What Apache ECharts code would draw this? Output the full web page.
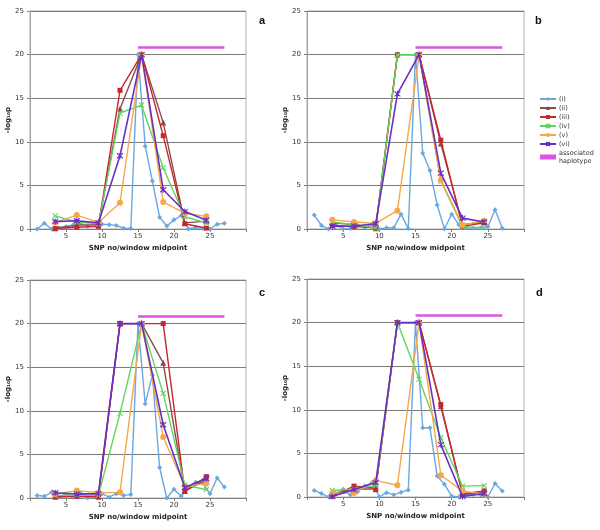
<!DOCTYPE html>
<html>
<head>
<meta charset="utf-8">
<script src="https://cdn.jsdelivr.net/npm/echarts@6/dist/echarts.min.js"></script>
<style>html,body{margin:0;padding:0;background:#fff}#c{width:600px;height:530px}</style>
</head>
<body>
<div id="c"></div>
<script>
// x positions
var snpX = [1,2,3,4,5,6,7,8,9,10,11,12,13,14,15,16,17,18,19,20,21,22,23,24,25,26,27];
var winX = [3.5,6.5,9.5,12.5,15.5,18.5,21.5,24.5];
var hapX = [15,27];
var hapY = [20.8,20.8];
var xTicks = ['5','10','15','20','25'];
var seriesNames = ['(i)','(ii)','(iii)','(iv)','(v)','(vi)'];
var panelLabels = ['a','b','c','d'];

// panel a
var a_i   = [0,0.65,0,0.15,0.25,0.45,0.6,0.3,0.55,0.55,0.5,0.4,0.1,0.05,20,9.5,5.5,1.35,0.35,1.05,1.55,0,0.2,0.05,0,0.55,0.65];
var a_ii  = [0.1,0.45,0.5,13.8,20,12.2,0.7,0.9];
var a_iii = [0.05,0.2,0.3,15.9,20,10.7,0.6,0.1];
var a_iv  = [1.5,0.8,0.6,13.3,14.2,7.0,1.4,0.7];
var a_v   = [0.75,1.6,0.75,3.0,20,3.1,1.8,1.45];
var a_vi  = [0.85,0.95,0.7,8.4,20,4.5,2.0,1.0];
// panel b
var b_i   = [1.6,0.4,0,0.5,0,0.05,0.4,0.2,0.55,0,0.15,0.15,1.7,0.05,20,8.7,6.7,2.75,0,1.7,0.5,0.15,0.1,0.15,0.25,2.2,0.1];
var b_ii  = [0.7,0.5,0.1,20,20,9.8,0.5,0.8];
var b_iii = [0.4,0.3,0.15,20,20,10.2,0.3,0.7];
var b_iv  = [0.8,0.5,0.1,20,20,5.5,0.25,0.15];
var b_v   = [1.05,0.8,0.65,2.1,20,5.6,0.45,0.95];
var b_vi  = [0.3,0.35,0.6,15.5,20,6.4,1.25,0.8];
// panel c
var c_i   = [0.3,0.2,0.65,0.1,0.5,0.1,0.6,0,0.5,0.5,0.1,0.5,0.3,0.4,20,10.8,14.1,3.5,0,1.0,0.2,1.2,1.8,1.7,0.5,2.3,1.25];
var c_ii  = [0.2,0.25,0.2,20,20,15.5,0.8,2.1];
var c_iii = [0.1,0.2,0.1,20,20,20,0.75,2.45];
var c_iv  = [0.3,0.35,0.3,9.7,20,12.0,1.5,0.95];
var c_v   = [0.45,0.85,0.6,0.65,20,7.0,1.35,1.65];
var c_vi  = [0.6,0.45,0.5,20,20,8.4,1.2,2.25];
// panel d
var d_i   = [0.75,0.4,0,0.4,0.9,0.25,0.6,1.25,1.65,0,0.5,0.25,0.55,0.8,20,7.95,7.95,2.4,1.45,0.1,0,0.3,0.3,0.25,0,1.55,0.7];
var d_ii  = [0.2,0.95,0.9,20,20,10.4,0.3,0.5];
var d_iii = [0.1,1.25,1.0,20,20,10.6,0.35,0.7];
var d_iv  = [0.75,0.9,1.3,20,13.5,6.8,1.25,1.3];
var d_v   = [0.45,0.45,1.9,1.35,20,2.5,0.7,0.3];
var d_vi  = [0.05,0.85,1.65,20,20,6.0,0.05,0.4];

var panels = [
  [a_i,a_ii,a_iii,a_iv,a_v,a_vi],
  [b_i,b_ii,b_iii,b_iv,b_v,b_vi],
  [c_i,c_ii,c_iii,c_iv,c_v,c_vi],
  [d_i,d_ii,d_iii,d_iv,d_v,d_vi]
];

var colors = ['#6aa8e0','#8e4a4a','#c8262c','#5fd45f','#f5a84a','#6a2ec4'];
var hapColor = '#dd55dd';
var symbols = ['diamond','triangle','rect','path://M0,0L10,10M10,0L0,10','circle','path://M0,0L10,10M10,0L0,10M5,-1L5,11'];
var symSizes = [5,6,5,5,6,6];

var grids = [
  {left:30, top:11, width:216, height:218},
  {left:307, top:11, width:217, height:218},
  {left:30, top:280, width:216, height:218},
  {left:307, top:279, width:217, height:218}
];

var font = 'DejaVu Sans';
var xAxes = [], yAxes = [], series = [], titles = [];
grids.forEach(function(g, gi){
  g.show = true; g.borderColor = '#b0b0b0'; g.borderWidth = 1; g.containLabel = false;
  xAxes.push({
    gridIndex: gi, type:'value', min:0, max:30, interval:5,
    name:'SNP no/window midpoint', nameLocation:'middle', nameGap:16,
    nameTextStyle:{fontFamily:font, fontWeight:'bold', fontSize:7, color:'#222'},
    axisLine:{show:true, onZero:false, lineStyle:{color:'#808080', width:1}},
    axisTick:{show:true, length:3, lineStyle:{color:'#808080'}},
    axisLabel:{fontFamily:font, fontSize:7, color:'#333', margin:4,
      formatter:function(v){ var s=String(v); return xTicks.indexOf(s)>=0 ? s : ''; }},
    splitLine:{show:false}
  });
  yAxes.push({
    gridIndex: gi, type:'value', min:0, max:25, interval:5,
    name:'-log\u2081\u2080p', nameLocation:'middle', nameGap:16, nameRotate:90,
    nameTextStyle:{fontFamily:font, fontWeight:'bold', fontSize:7, color:'#222'},
    axisLine:{show:true, lineStyle:{color:'#a0a0a0', width:1}},
    axisTick:{show:true, length:3, lineStyle:{color:'#808080'}},
    axisLabel:{fontFamily:font, fontSize:7, color:'#333', margin:6},
    splitLine:{show:true, lineStyle:{color:'#7a7a7a', width:1}}
  });
  var pd = panels[gi];
  pd.forEach(function(vals, si){
    var xs = si===0 ? snpX : winX;
    var data = vals.map(function(v,k){ return [xs[k], v]; });
    var isPath = symbols[si].indexOf('path')===0;
    series.push({
      name: seriesNames[si], type:'line', xAxisIndex:gi, yAxisIndex:gi,
      data: data, symbol: symbols[si], symbolSize: symSizes[si], showSymbol:true,
      lineStyle:{color:colors[si], width: si===5 ? 1.6 : 1.4},
      itemStyle: isPath ? {color:colors[si], borderColor:colors[si], borderWidth:1.1}
                        : {color:colors[si], borderWidth:0},
      emphasis:{disabled:true}, animation:false, z: 2+si
    });
  });
  series.push({
    name:'associated\nhaplotype', type:'line', xAxisIndex:gi, yAxisIndex:gi,
    data: hapX.map(function(x,k){ return [x, hapY[k]]; }),
    symbol:'none', lineStyle:{color:hapColor, width:2.5}, itemStyle:{color:hapColor},
    emphasis:{disabled:true}, animation:false, z:9
  });
});

titles = [
  {text:panelLabels[0], left:254, top:10},
  {text:panelLabels[1], left:530, top:10},
  {text:panelLabels[2], left:254, top:282},
  {text:panelLabels[3], left:531, top:282}
].map(function(t){ t.textStyle={fontFamily:'Liberation Sans', fontWeight:'bold', fontSize:11, color:'#111'}; return t; });

var legendData = seriesNames.map(function(n,i){ return {name:n}; });
legendData.push({name:'associated\nhaplotype', icon:'rect', itemStyle:{color:hapColor}});

var chart = echarts.init(document.getElementById('c'), null, {renderer:'canvas'});
chart.setOption({
  animation:false,
  backgroundColor:'#ffffff',
  title: titles,
  grid: grids,
  xAxis: xAxes,
  yAxis: yAxes,
  legend: {
    data: legendData, orient:'vertical', left:534, top:90,
    itemWidth:16, itemHeight:5, itemGap:1, selectedMode:false,
    textStyle:{fontFamily:font, fontSize:6.5, color:'#333', padding:[0,0,0,-2], lineHeight:8}
  },
  series: series
});
</script>
</body>
</html>
